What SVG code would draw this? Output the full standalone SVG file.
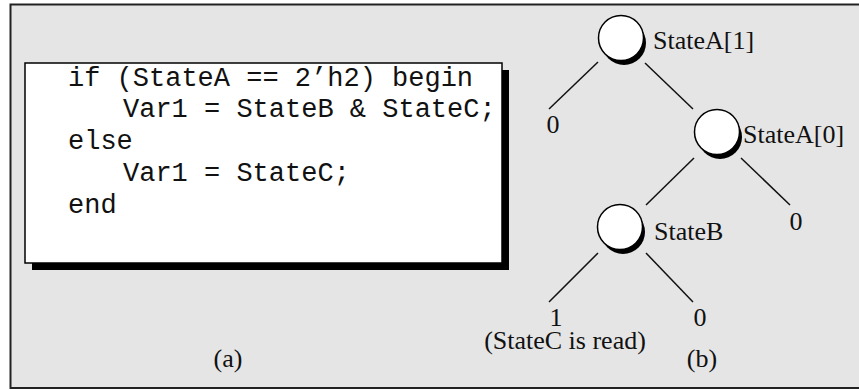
<svg xmlns="http://www.w3.org/2000/svg" width="859" height="390" viewBox="0 0 859 390">
<style>
.code{font-family:"Liberation Mono","Courier New",monospace;font-size:27px;fill:#111;white-space:pre}
.lbl{font-family:"Liberation Serif","Times New Roman",serif;font-size:26px;fill:#111}
.mid{text-anchor:middle}
.edge{stroke:#111;stroke-width:1.5;fill:none}
.nshadow{fill:#000}
.nface{fill:#fff;stroke:#000;stroke-width:1.5}
</style>
<rect x="10.5" y="4.5" width="860" height="383.5" fill="#e5e5e5" stroke="#222" stroke-width="2"/>
<g id="code-box">
<rect x="32" y="70" width="477" height="200" fill="#000"/>
<rect x="25" y="63" width="477" height="200" fill="#fff" stroke="#000" stroke-width="1.5"/>
<text class="code" x="68" y="86">if (StateA == 2’h2) begin</text>
<text class="code" x="123" y="117">Var1 = StateB &amp; StateC;</text>
<text class="code" x="68" y="149">else</text>
<text class="code" x="123" y="181">Var1 = StateC;</text>
<text class="code" x="68" y="213">end</text>
</g>
<text class="lbl mid" x="228" y="367">(a)</text>
<g id="connectors">
<line class="edge" x1="598" y1="62" x2="549" y2="109"/>
<line class="edge" x1="645" y1="63" x2="693" y2="109"/>
<line class="edge" x1="694" y1="158" x2="646" y2="205"/>
<line class="edge" x1="741" y1="158" x2="790" y2="205"/>
<line class="edge" x1="598" y1="253" x2="549" y2="302"/>
<line class="edge" x1="646" y1="253" x2="693" y2="302"/>
</g>
<g id="node-stateA1">
<circle class="nshadow" cx="624" cy="43" r="22"/>
<circle class="nface" cx="621" cy="38" r="22.5"/>
<text class="lbl" x="653" y="49">StateA[1]</text>
</g>
<g id="node-stateA0">
<circle class="nshadow" cx="720" cy="137" r="22"/>
<circle class="nface" cx="717" cy="132" r="22.5"/>
<text class="lbl" x="743" y="143">StateA[0]</text>
</g>
<g id="node-stateB">
<circle class="nshadow" cx="623" cy="232" r="22"/>
<circle class="nface" cx="620" cy="227" r="22.5"/>
<text class="lbl" x="654" y="240">StateB</text>
</g>
<g id="leaves">
<text class="lbl mid" x="553" y="133">0</text>
<text class="lbl mid" x="796" y="230">0</text>
<text class="lbl mid" x="556" y="326">1</text>
<text class="lbl mid" x="700" y="326">0</text>
<text class="lbl mid" x="565" y="349">(StateC is read)</text>
</g>
<text class="lbl mid" x="702" y="367">(b)</text>
</svg>
